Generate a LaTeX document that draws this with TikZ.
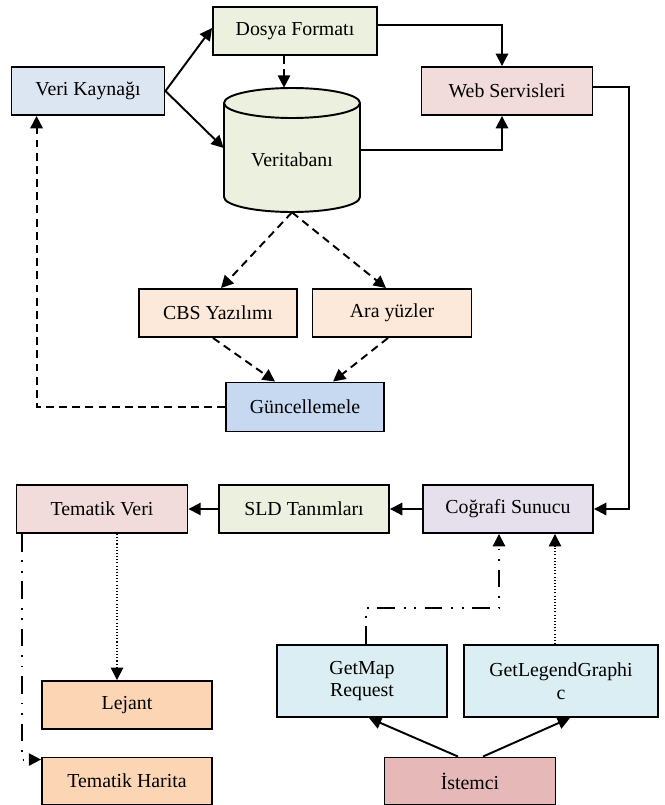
\documentclass[tikz,border=0pt]{standalone}
\usepackage{fontspec}
\setmainfont{Liberation Serif}
\usetikzlibrary{calc,arrows.meta}
\definecolor{vkblue}{HTML}{DCE6F2}
\definecolor{lgreen}{HTML}{EBF1DE}
\definecolor{lpink}{HTML}{F2DCDB}
\definecolor{lpeach}{HTML}{FDE9D9}
\definecolor{gublue}{HTML}{C6D9F1}
\definecolor{lviolet}{HTML}{E5E0EC}
\definecolor{lcyan}{HTML}{DBEEF4}
\definecolor{peach}{HTML}{FCD5B5}
\definecolor{rosy}{HTML}{E6B9B8}

\begin{document}
\begin{tikzpicture}[x=0.02cm, y=-0.02cm,
    box/.style={draw, line width=1.1pt, inner sep=2pt, align=center,
      minimum height=0.96cm, font=\fontsize{11.3}{13}\selectfont},
    arr/.style={line width=1.1pt, -{Triangle[length=7pt,width=7pt]}},
    dasharr/.style={arr, dash pattern=on 4.5pt off 3pt},
    dotarr/.style={arr, dash pattern=on 0.6pt off 1.2pt, line width=0.9pt},
    dashdotarr/.style={arr, dash pattern=on 10pt off 5pt on 1pt off 5pt on 1pt off 5pt}]
    \useasboundingbox (0,0) rectangle (665,805);
    % Upper part
    \node[box, fill=vkblue, minimum width=3.06cm] (vk) at (88,91) {Veri Kaynağı};
    \node[box, fill=lgreen, minimum width=3.28cm] (df) at (295,31) {Dosya Formatı};
    \node[box, fill=lpink, minimum width=3.42cm] (ws) at (507,91) {Web Servisleri};
    % Database cylinder
    \fill[lgreen] (224,103) -- (224,197) arc[start angle=180, end angle=360,
      x radius=1.36cm, y radius=0.3cm] -- (360,103) -- cycle;
    \draw[line width=1.1pt] (224,103) -- (224,197) arc[start angle=180, end angle=360,
      x radius=1.36cm, y radius=0.3cm] -- (360,103);
    \filldraw[fill=lgreen, line width=1.1pt] (292,103) ellipse[x radius=1.36cm, y radius=0.3cm];
    \node[inner sep=0, minimum width=2.72cm, minimum height=2.08cm,
      font=\fontsize{11.3}{13}\selectfont] (db) at (292,160) {Veritabanı};
    \coordinate (dbtop) at ($(db.north)+(-8,-20)$);
    \node[box, fill=lpeach, minimum width=3.16cm] (cbs) at (218,313) {CBS Yazılımı};
    \node[box, fill=lpeach, minimum width=3.18cm] (ay) at (392,313) {Ara yüzler};
    \node[box, fill=gublue, minimum width=3.16cm, minimum height=0.98cm] (gu) at (305,407) {Güncellemele};
    % Lower part
    \node[box, fill=lpink, minimum width=3.42cm] (tv) at (102,509) {Tematik Veri};
    \node[box, fill=lgreen, minimum width=3.40cm] (sld) at (304,509) {SLD Tanımları};
    \node[box, fill=lviolet, minimum width=3.40cm] (cs) at (508,509) {Coğrafi Sunucu};
    \node[box, fill=lcyan, minimum width=3.40cm, minimum height=1.44cm] (gm) at (362,681) {GetMap\\Request};
    \node[box, fill=lcyan, minimum width=3.88cm, minimum height=1.44cm] (gl) at (561,681) {GetLegendGraphi\\c};
    \node[box, fill=peach, minimum width=3.40cm] (lj) at (127,705) {Lejant};
    \node[box, fill=peach, minimum width=3.40cm, minimum height=0.94cm] (th) at (127,781) {Tematik Harita};
    \node[box, fill=rosy, minimum width=3.42cm, minimum height=0.94cm] (ist) at (470,781) {İstemci};
    % Connectors
    \draw[arr] (vk.east) -- ($(df.west)+(0,-3)$);
    \draw[arr] (vk.east) -- ($(db.west)+(0,-12)$);
    \draw[dasharr] (dbtop |- df.south) -- (dbtop);
    \draw[arr] ($(df.east)+(0,-6)$) -| ($(ws.north)+(-5,0)$);
    \draw[arr] ($(db.east)+(0,-10)$) -| ($(ws.south)+(-5,0)$);
    \draw[arr] ($(ws.east)+(0,-4)$) -- ++(36,0) |- (cs.east);
    \draw[dasharr] (db.south) -- ($(cbs.north)+(3,0)$);
    \draw[dasharr] (db.south) -- ($(ay.north)+(-6,0)$);
    \draw[dasharr] ($(cbs.south)+(-5,0)$) -- ($(gu.north)+(-30,0)$);
    \draw[dasharr] ($(ay.south)+(-4,0)$) -- ($(gu.north)+(28,0)$);
    \draw[dasharr] (gu.west) -| ($(vk.south west)+(26,0)$);
    \draw[arr] (cs.west) -- (sld.east);
    \draw[arr] (sld.west) -- (tv.east);
    \draw[dashdotarr] ($(tv.south west)+(6,0)$) |- ($(th.north west)+(0,3)$);
    \draw[dotarr] ($(tv.south)+(15,0)$) -- ($(lj.north)+(-10,0)$);
    \draw[dashdotarr] ($(gm.north)+(4,0)$) -- ++(0,-36) -| ($(cs.south)+(-9,0)$);
    \draw[dotarr] ($(gl.north)+(-6,0)$) -- ($(cs.south)+(47,0)$);
    \draw[arr] ($(ist.north)+(-12,0)$) -- ($(gm.south)+(7,0)$);
    \draw[arr] ($(ist.north)+(13,0)$) -- ($(gl.south)+(9,0)$);
\end{tikzpicture}
\end{document}
